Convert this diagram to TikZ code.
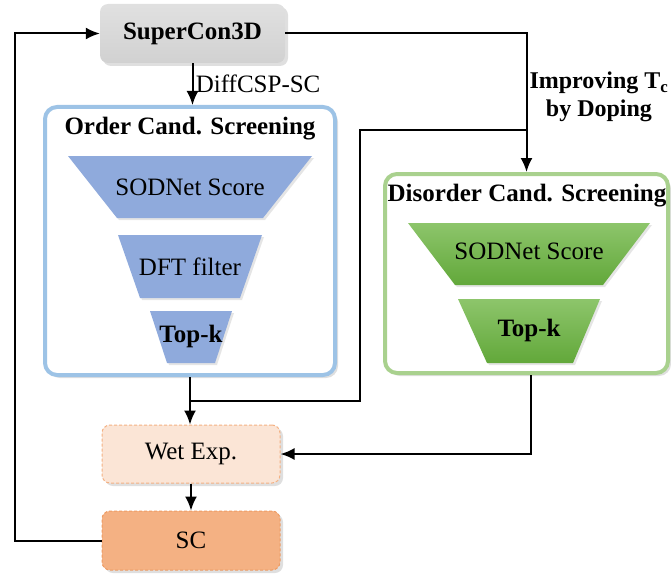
\documentclass[tikz,border=0pt]{standalone}
\usepackage{fontspec}
\setmainfont{Liberation Serif}
\usepackage{tikz}
\usetikzlibrary{positioning,shadows,arrows.meta,calc}

\definecolor{dbgray}{HTML}{D2D2D2}
\definecolor{ordline}{HTML}{9DC3E6}
\definecolor{ordfill}{HTML}{8FAADC}
\definecolor{disline}{HTML}{A9D18E}
\definecolor{distop}{HTML}{8DC56B}
\definecolor{disbot}{HTML}{62A83A}
\definecolor{wetfill}{HTML}{FBE5D6}
\definecolor{wetline}{HTML}{F4B183}
\definecolor{scfill}{HTML}{F4B183}
\definecolor{scline}{HTML}{EE9B62}

\begin{document}
\begin{tikzpicture}[
    x=1pt, y=-1pt,
    >={Latex[length=14pt,width=12pt]},
    font=\fontsize{25}{28}\selectfont,
    flow/.style={
		line width=2pt
	},
    block/.style={
		rectangle,
		rounded corners=8pt,
		minimum width=178pt,
		minimum height=58pt,
		drop shadow={opacity=0.25, shadow xshift=3pt, shadow yshift=-3pt}
	},
    panel/.style={
		rectangle,
		rounded corners=12pt,
		line width=4pt,
		fill=white,
		drop shadow={opacity=0.25, shadow xshift=3pt, shadow yshift=-3pt}
	},
    funnel/.style={
		drop shadow={opacity=0.2, shadow xshift=2pt, shadow yshift=-2pt}
	},
    ordfunnel/.style={
		funnel,
		fill=ordfill
	},
    disfunnel/.style={
		funnel,
		top color=distop,
		bottom color=disbot
	},
    wetbox/.style={
		block,
		fill=wetfill,
		draw=wetline,
		line width=1pt,
		dash pattern=on 3pt off 2pt
	}
  ]
  \useasboundingbox (0,0) rectangle (671,575);

  % source database
  \node [block, minimum width=185pt, minimum height=59pt, top color=gray!24, bottom color=gray!36] (supercon) at (192.5,33.5) {\bfseries SuperCon3D};

  % ordered candidates
  \node [panel, draw=ordline, minimum width=290pt, minimum height=268pt] (order) at (190,241) {};
  \node [font=\fontsize{25}{28}\selectfont\bfseries] (ordtitle) at (190,129) {Order Cand. Screening};
  \path [ordfunnel] (68,156) -- (312,156) -- (263,218) -- (117,218) -- cycle;
  \node (ordsod) at (190,187) {SODNet Score};
  \path [ordfunnel] (118,235) -- (262,235) -- (240,298) -- (140,298) -- cycle;
  \node (orddft) at (190,266.5) {DFT filter};
  \path [ordfunnel] (150,311) -- (232,311) -- (215,363) -- (167,363) -- cycle;
  \node (ordtop) at (191,336) {\bfseries Top-k};

  % disordered candidates
  \node [panel, draw=disline, minimum width=283pt, minimum height=199pt] (disorder) at (526.5,273.5) {};
  \node [font=\fontsize{25}{28}\selectfont\bfseries] (distitle) at (527,196) {Disorder Cand. Screening};
  \path [disfunnel] (408,223) -- (650,223) -- (603,285) -- (455,285) -- cycle;
  \node (dissod) at (529,251) {SODNet Score};
  \path [disfunnel] (458,299) -- (600,299) -- (573,363) -- (487,363) -- cycle;
  \node (distop) at (529,330) {\bfseries Top-k};

  % experiment
  \node [wetbox] (wet) at (191,454) {Wet Exp.};
  \node [wetbox, fill=scfill, draw=scline, minimum height=59pt] (sc) at (191,540.5) {SC};

  % connectors
  \coordinate (loopx) at (15,0);
  \coordinate (bend) at (360,130);
  \coordinate (split) at ($(order.south)!0.5!(wet.north)$);

  \draw [flow,->] (supercon.south) -- node [right, xshift=-1pt] {DiffCSP-SC} (supercon.south |- order.north);
  \draw [flow,->] (supercon.east) -| node [pos=0.73, right, inner xsep=2pt, align=center, font=\fontsize{24}{28}\selectfont\bfseries] {Improving T\textsubscript{c}\\by Doping} (disorder.north);
  \draw [flow,->] (order.south) -- (order.south |- wet.north);
  \draw [flow] (split) -| (bend) -- (bend -| disorder.north);
  \draw [flow,->] ([xshift=4pt]disorder.south) |- (wet.east);
  \draw [flow,->] (wet) -- (sc);
  \draw [flow,->] (sc.west) -- (sc.west -| loopx) |- (supercon.west);

\end{tikzpicture}
\end{document}
